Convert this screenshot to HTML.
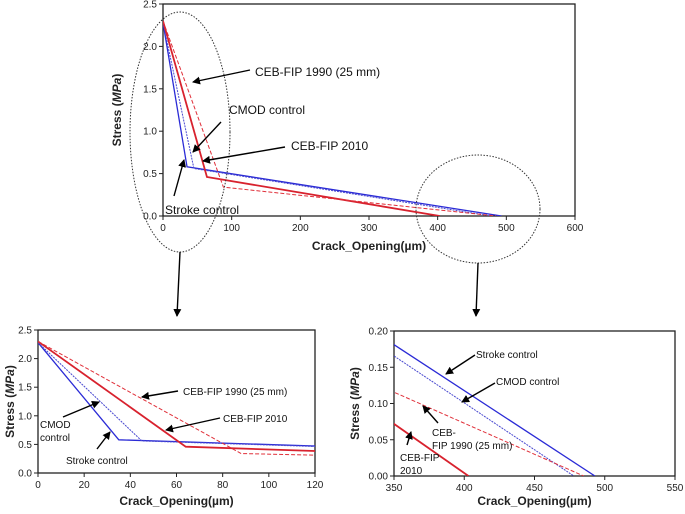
<!DOCTYPE html>
<html><head><meta charset="utf-8"><style>
html,body{margin:0;padding:0;background:#fff;}
svg{display:block;font-family:"Liberation Sans",Arial,sans-serif;}
</style></head><body>
<svg id="s" width="685" height="514" viewBox="0 0 685 514">
<defs><marker id="ah" markerWidth="8" markerHeight="8" refX="7" refY="4" orient="auto" markerUnits="userSpaceOnUse"><path d="M0,0 L8,4 L0,8 z" fill="#000"/></marker></defs>
</svg>
<script>
const seriesNames=["stroke-control","cmod-control","ceb-fip-2010","ceb-fip-1990"];
const strokeX=[0,35,493], strokeY=[2.28,0.58,0];
const cmodX=[0,45,478], cmodY=[2.28,0.56,0];
const ceb2010X=[0,64,403], ceb2010Y=[2.30,0.46,0];
const ceb1990X=[0,88,485], ceb1990Y=[2.30,0.34,0];
const topXTicks=[0,100,200,300,400,500,600], topYTicks=[0,0.5,1.0,1.5,2.0,2.5];
const blXTicks=[0,20,40,60,80,100,120], blYTicks=[0,0.5,1.0,1.5,2.0,2.5];
const brXTicks=[350,400,450,500,550], brYTicks=[0,0.05,0.10,0.15,0.20];

const NS="http://www.w3.org/2000/svg", svg=document.getElementById('s');
function mk(tag,attrs,parent){const e=document.createElementNS(NS,tag);for(const k in attrs)e.setAttribute(k,attrs[k]);(parent||svg).appendChild(e);return e;}
const styles=[
 {x:strokeX,y:strokeY,c:"#2b2bd6",w:1.3,d:""},
 {x:cmodX,y:cmodY,c:"#4a4ad0",w:1,d:"2,1"},
 {x:ceb2010X,y:ceb2010Y,c:"#d8222e",w:1.8,d:""},
 {x:ceb1990X,y:ceb1990Y,c:"#e0303a",w:1,d:"4,2"}];

function chart(name,L,R,T,B,x0,x1,y0,y1,xt,yt,dec,titleX,titleY,ylabX){
 const g=mk('g',{});
 
 
 const sx=v=>L+(v-x0)/(x1-x0)*(R-L), sy=v=>B-(v-y0)/(y1-y0)*(B-T);
 const cp=mk('clipPath',{id:'c'+name},g); mk('rect',{x:L,y:T,width:R-L,height:B-T},cp);
 const box=mk('rect',{x:L,y:T,width:R-L,height:B-T,fill:'none',stroke:'#222','stroke-width':1.3},g);
 
 
 xt.forEach(v=>{mk('line',{x1:sx(v),x2:sx(v),y1:B,y2:B+4,stroke:'#222'},g);
  const t=mk('text',{x:sx(v),y:B+15,'font-size':10,'text-anchor':'middle',fill:'#222'},g);t.textContent=v;
  
  });
 yt.forEach(v=>{mk('line',{x1:L-4,x2:L,y1:sy(v),y2:sy(v),stroke:'#222'},g);
  const t=mk('text',{x:L-6,y:sy(v)+3.5,'font-size':10,'text-anchor':'end',fill:'#222'},g);t.textContent=v.toFixed(dec);
  
  });
 const xtl=mk('text',{x:(L+R)/2,y:titleY,'font-size':12,'font-weight':'bold','text-anchor':'middle',fill:'#222'},g);
 xtl.textContent='Crack_Opening(\u00b5m)';
 
 
 const ytl=mk('text',{x:0,y:0,'font-size':12,'font-weight':'bold','text-anchor':'middle',fill:'#222',transform:`translate(${ylabX},${(T+B)/2}) rotate(-90)`},g);
 ytl.innerHTML='Stress (<tspan font-style="italic">MPa</tspan>)';
 
 
 const pg=mk('g',{'clip-path':`url(#c${name})`},g);
 styles.forEach((s,i)=>{const p=mk('polyline',{points:s.x.map((v,j)=>sx(v)+','+sy(s.y[j])).join(' '),fill:'none',stroke:s.c,'stroke-width':s.w,'stroke-dasharray':s.d},pg);
  
  });
}
chart('main-chart',163,575,4,216,0,600,0,2.5,topXTicks,topYTicks,1,0,250,121);
chart('zoom-left-chart',38,315,330,473,0,120,0,2.5,blXTicks,blYTicks,1,0,505,14);
chart('zoom-right-chart',394,675,331,476,350,550,0,0.2,brXTicks,brYTicks,2,0,505,359);

function note(txt,x,y,size,name){const t=mk('text',{x:x,y:y,'font-size':size,fill:'#111'});t.textContent=txt;
 
 }
function arrow(x1,y1,x2,y2,name){const a=mk('line',{x1,y1,x2,y2,stroke:'#000','stroke-width':1.4,'marker-end':'url(#ah)'});
 
 }
function ell(cx,cy,rx,ry,name){const e=mk('ellipse',{cx,cy,rx,ry,fill:'none',stroke:'#333','stroke-width':1,'stroke-dasharray':'1.5,1.5'});
 
 }
// top annotations
ell(180,132,50,120,'zoom-ellipse-left'); ell(478,209,62,54,'zoom-ellipse-right');
note('CEB-FIP 1990 (25 mm)',255,76,12,'label-ceb-fip-1990'); arrow(250,70,193,82,'arrow-ceb-fip-1990');
note('CMOD control',229,114,12,'label-cmod'); arrow(221,122,193,152,'arrow-cmod');
note('CEB-FIP 2010',291,150,12,'label-ceb-fip-2010'); arrow(285,147,203,161,'arrow-ceb-fip-2010');
note('Stroke control',165,214,12,'label-stroke'); arrow(174,196,184,160,'arrow-stroke');
arrow(180,252,177,316,'arrow-to-left-zoom'); arrow(478,263,476,316,'arrow-to-right-zoom');
// bottom-left annotations
note('CEB-FIP 1990 (25 mm)',183,395,10,'bl-label-ceb-fip-1990'); arrow(178,391,142,397,'bl-arrow-ceb-fip-1990');
note('CEB-FIP 2010',223,422,10,'bl-label-ceb-fip-2010'); arrow(220,418,166,430,'bl-arrow-ceb-fip-2010');
note('CMOD',40,428,10,'bl-label-cmod'); note('control',40,441,10,'bl-label-cmod-2'); arrow(63,417,99,402,'bl-arrow-cmod');
note('Stroke control',66,464,10,'bl-label-stroke'); arrow(97,449,110,432,'bl-arrow-stroke');
// bottom-right annotations
note('Stroke control',476,358,10,'br-label-stroke'); arrow(475,355,446,374,'br-arrow-stroke');
note('CMOD control',496,385,10,'br-label-cmod'); arrow(495,383,462,402,'br-arrow-cmod');
note('CEB-',432,436,10,'br-label-ceb-fip-1990'); note('FIP 1990 (25 mm)',432,449,10,'br-label-ceb-fip-1990-2'); arrow(438,423,423,406,'br-arrow-ceb-fip-1990');
note('CEB-FIP',400,461,10,'br-label-ceb-fip-2010'); note('2010',400,474,10,'br-label-ceb-fip-2010-2'); arrow(407,445,411,432,'br-arrow-ceb-fip-2010');
</script>
</body></html>
